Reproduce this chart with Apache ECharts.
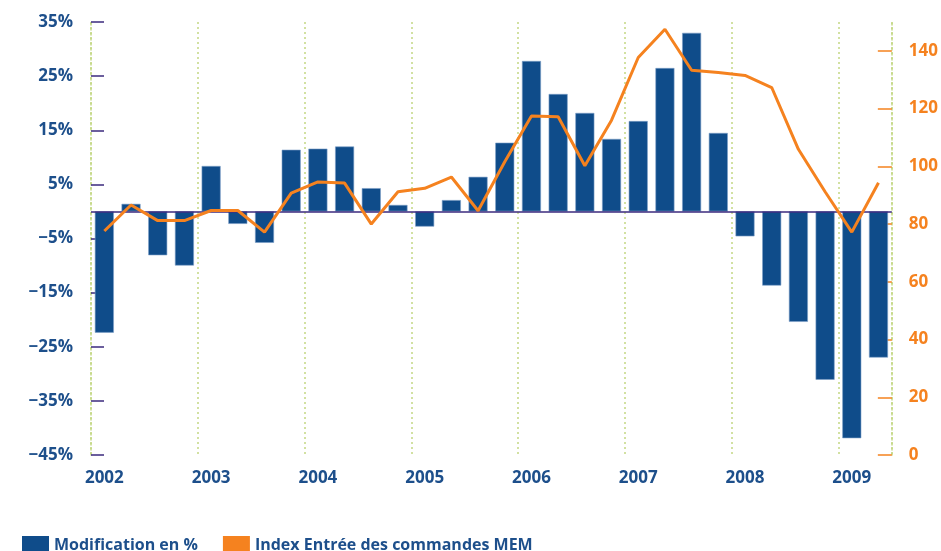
<!DOCTYPE html>
<html>
<head>
<meta charset="utf-8">
<script src="https://cdn.jsdelivr.net/npm/echarts@6/dist/echarts.min.js"></script>
<style>
  html, body { margin: 0; padding: 0; background: #fff; }
  #chart { width: 941px; height: 551px; }
</style>
</head>
<body>
<div id="chart"></div>
<script>
// quarterly data 2002 Q1 .. 2009 Q2
const categories = [
  '2002 Q1', '2002 Q2', '2002 Q3', '2002 Q4',
  '2003 Q1', '2003 Q2', '2003 Q3', '2003 Q4',
  '2004 Q1', '2004 Q2', '2004 Q3', '2004 Q4',
  '2005 Q1', '2005 Q2', '2005 Q3', '2005 Q4',
  '2006 Q1', '2006 Q2', '2006 Q3', '2006 Q4',
  '2007 Q1', '2007 Q2', '2007 Q3', '2007 Q4',
  '2008 Q1', '2008 Q2', '2008 Q3', '2008 Q4',
  '2009 Q1', '2009 Q2'
]
// Modification en % (left axis)
const changePct = [
  -22.4, 1.4, -8.1, -10.0,
  8.4, -2.3, -5.8, 11.4,
  11.6, 12.0, 4.3, 1.2,
  -2.8, 2.1, 6.4, 12.7,
  27.8, 21.7, 18.2, 13.4,
  16.7, 26.5, 33.0, 14.5,
  -4.6, -13.7, -20.4, -31.1,
  -41.9, -27.0
]
// Index Entrée des commandes MEM (right axis)
const orderIndex = [
  77.6, 86.6, 81.2, 81.2,
  84.7, 84.7, 77.2, 90.7,
  94.6, 94.2, 80.0, 91.2,
  92.4, 96.3, 84.6, 101.6,
  117.4, 117.2, 100.2, 116.0,
  137.7, 147.5, 133.3, 132.5,
  131.5, 127.3, 105.9, 91.2,
  77.2, 94.3
]
const rightTicks = [0, 20, 40, 60, 80, 100, 120, 140]

const NAVY = '#0f4c8a'
const TEXT = '#1d4f8b'
const ORANGE = '#f5821f'
const PURPLE = '#3b2a7e'
const GREENDOT = '#c4d884'

const chart = echarts.init(document.getElementById('chart'))

chart.setOption({
  animation: false,
  grid: { left: 91, right: 49, top: 22, bottom: 96 },
  legend: {
    left: 22,
    top: 536,
    padding: 0,
    itemWidth: 27,
    itemHeight: 18,
    itemGap: 25,
    icon: 'rect',
    textStyle: { color: TEXT, fontSize: 16, fontWeight: 'bold', fontFamily: 'Open Sans' },
    data: [
      { name: 'Modification en %', itemStyle: { color: NAVY, borderWidth: 0 } },
      { name: 'Index Entrée des commandes MEM', itemStyle: { color: ORANGE, borderWidth: 0 } }
    ]
  },
  xAxis: {
    type: 'category',
    data: categories,
    boundaryGap: true,
    axisLine: { show: false },
    axisTick: { show: false },
    axisLabel: {
      interval: 3,
      margin: 15,
      color: TEXT,
      fontSize: 17,
      fontWeight: 'bold',
      fontFamily: 'Open Sans',
      formatter: (v) => v.slice(0, 4)
    },
    splitLine: {
      show: true,
      interval: 3,
      lineStyle: { color: GREENDOT, width: 1.5, type: [2, 3] }
    }
  },
  yAxis: [
    {
      type: 'value',
      min: -45,
      max: 35,
      interval: 10,
      axisLine: { show: true, lineStyle: { color: GREENDOT, width: 1.5, type: [2, 3] } },
      axisTick: { show: true, inside: true, length: 13, lineStyle: { color: PURPLE, width: 1.5 } },
      splitLine: { show: false },
      axisLabel: {
        margin: 18,
        color: TEXT,
        fontSize: 17,
        fontWeight: 'bold',
        fontFamily: 'Open Sans',
        formatter: (v) => (v < 0 ? '\u2212' + Math.abs(v) : v) + '%'
      }
    },
    {
      type: 'value',
      min: 0,
      max: 150,
      interval: 20,
      position: 'right',
      axisLine: { show: true, lineStyle: { color: GREENDOT, width: 1.5, type: [2, 3] } },
      axisTick: {
        show: true, inside: true, length: 14,
        customValues: rightTicks,
        lineStyle: { color: ORANGE, width: 1.5 }
      },
      splitLine: { show: false },
      axisLabel: {
        margin: 17,
        color: ORANGE,
        fontSize: 17,
        fontWeight: 'bold',
        fontFamily: 'Open Sans',
        customValues: rightTicks
      }
    }
  ],
  series: [
    {
      name: 'Modification en %',
      type: 'bar',
      yAxisIndex: 0,
      barWidth: 19,
      data: changePct,
      itemStyle: { color: NAVY, borderColor: '#7d9fc8', borderWidth: 0.6 },
      markLine: {
        silent: true,
        symbol: 'none',
        label: { show: false },
        lineStyle: { color: PURPLE, width: 1.5, type: 'solid' },
        data: [{ yAxis: 0 }]
      }
    },
    {
      name: 'Index Entrée des commandes MEM',
      type: 'line',
      yAxisIndex: 1,
      data: orderIndex,
      symbol: 'none',
      z: 5,
      lineStyle: { color: ORANGE, width: 3 },
      itemStyle: { color: ORANGE }
    }
  ]
})
</script>
</body>
</html>
